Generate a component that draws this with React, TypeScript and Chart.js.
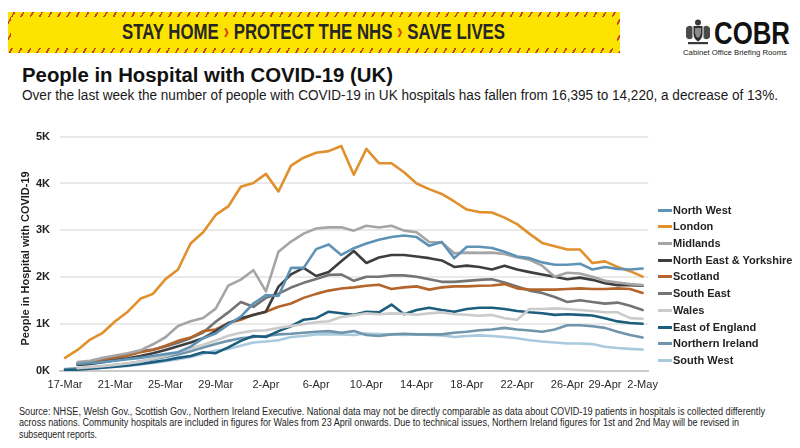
import React, { useEffect, useLayoutEffect, useRef } from 'react';
import { Chart, registerables } from 'chart.js';

Chart.register(...registerables);

const FONT = "'Liberation Sans', Arial, Helvetica, sans-serif";

const dates = [
  '17-Mar', '18-Mar', '19-Mar', '20-Mar', '21-Mar', '22-Mar', '23-Mar', '24-Mar', '25-Mar', '26-Mar',
  '27-Mar', '28-Mar', '29-Mar', '30-Mar', '31-Mar', '1-Apr', '2-Apr', '3-Apr', '4-Apr', '5-Apr',
  '6-Apr', '7-Apr', '8-Apr', '9-Apr', '10-Apr', '11-Apr', '12-Apr', '13-Apr', '14-Apr', '15-Apr',
  '16-Apr', '17-Apr', '18-Apr', '19-Apr', '20-Apr', '21-Apr', '22-Apr', '23-Apr', '24-Apr', '25-Apr',
  '26-Apr', '27-Apr', '28-Apr', '29-Apr', '30-Apr', '1-May', '2-May',
];

const tickIndices = [0, 4, 8, 12, 16, 20, 24, 28, 32, 36, 40, 43, 46];
const yTicks = [0, 1000, 2000, 3000, 4000, 5000];

const seriesNames = [
  'North West', 'London', 'Midlands', 'North East & Yorkshire', 'Scotland',
  'South East', 'Wales', 'East of England', 'Northern Ireland', 'South West',
];

const seriesColors = [
  '#5f93b6', '#e0902c', '#a5a5a5', '#3e3e3e', '#b4652b',
  '#747474', '#cbcbcb', '#1d5d7e', '#7094ab', '#a9c9de',
];

const northWest = [null, 150, 170, 190, 220, 250, 280, 320, 360, 400, 520, 700, 800, 990, 1160, 1440, 1620, 1600, 2199, 2199, 2600, 2700, 2475, 2620, 2718, 2800, 2857, 2891, 2857, 2670, 2753, 2407, 2650, 2650, 2625, 2545, 2442, 2407, 2317, 2268, 2268, 2289, 2164, 2220, 2178, 2164, 2185];
const london = [280, 450, 670, 815, 1060, 1265, 1540, 1645, 1960, 2165, 2720, 2960, 3330, 3510, 3930, 4010, 4205, 3830, 4380, 4550, 4655, 4690, 4800, 4185, 4737, 4433, 4433, 4240, 4000, 3880, 3776, 3616, 3444, 3390, 3380, 3272, 3133, 2925, 2732, 2662, 2593, 2593, 2303, 2338, 2220, 2130, 2012];
const midlands = [null, 190, 220, 280, 330, 380, 440, 570, 720, 960, 1060, 1130, 1330, 1820, 1950, 2150, 1700, 2545, 2760, 2930, 3040, 3064, 3064, 2994, 3097, 3060, 3097, 2994, 2960, 2753, 2740, 2510, 2525, 2520, 2525, 2497, 2427, 2372, 2247, 2012, 2095, 2081, 2012, 1923, 1888, 1853, 1832];
const northEastYorkshire = [null, 130, 150, 190, 230, 270, 320, 380, 450, 530, 610, 700, 850, 1020, 1127, 1197, 1265, 1800, 2060, 2199, 2027, 2110, 2340, 2560, 2303, 2420, 2475, 2475, 2442, 2407, 2359, 2220, 2247, 2220, 2164, 2247, 2164, 2109, 2060, 2012, 1957, 1992, 1944, 1874, 1832, 1832, 1818];
const scotland = [null, 150, 180, 220, 270, 330, 401, 450, 539, 643, 713, 851, 886, 1023, 1093, 1200, 1265, 1369, 1440, 1560, 1645, 1715, 1760, 1784, 1819, 1840, 1749, 1784, 1805, 1736, 1784, 1805, 1805, 1819, 1825, 1853, 1763, 1736, 1736, 1736, 1749, 1763, 1749, 1749, 1763, 1749, 1666];
const southEast = [null, 170, 200, 250, 300, 360, 420, 460, 520, 600, 700, 820, 1050, 1250, 1473, 1369, 1560, 1650, 1780, 1880, 1960, 2050, 2060, 1923, 2012, 2012, 2040, 2040, 2012, 1957, 1902, 1902, 1923, 1944, 1957, 1888, 1805, 1715, 1666, 1577, 1473, 1508, 1473, 1438, 1459, 1390, 1300];
const wales = [null, 60, 80, 100, 130, 160, 200, 260, 320, 400, 480, 560, 650, 750, 816, 860, 870, 920, 960, 1000, 1040, 1060, 1150, 1190, 1230, 1210, 1230, 1220, 1200, 1230, 1250, 1210, 1200, 1180, 1197, 1127, 1093, 1321, 1321, 1335, 1321, 1300, 1280, 1252, 1252, 1127, 1114];
const eastOfEngland = [20, 30, 50, 70, 90, 120, 150, 190, 230, 280, 320, 400, 380, 505, 643, 747, 726, 851, 954, 1093, 1127, 1265, 1231, 1197, 1265, 1252, 1418, 1210, 1300, 1349, 1300, 1265, 1321, 1349, 1349, 1321, 1280, 1252, 1231, 1197, 1210, 1197, 1183, 1127, 1058, 1023, 1009];
const northernIreland = [40, 60, 80, 100, 130, 160, 200, 250, 300, 350, 420, 500, 574, 643, 699, 726, 747, 781, 795, 816, 837, 851, 816, 851, 768, 747, 781, 795, 781, 781, 781, 816, 837, 870, 886, 920, 886, 865, 837, 886, 975, 975, 954, 920, 837, 768, 713];
const southWest = [30, 40, 55, 70, 90, 110, 140, 170, 210, 250, 300, 367, 436, 470, 539, 608, 629, 657, 726, 747, 781, 781, 781, 768, 800, 790, 781, 770, 781, 770, 760, 726, 747, 760, 747, 726, 699, 657, 629, 608, 587, 587, 574, 519, 492, 471, 460];

const seriesValues = [
  northWest, london, midlands, northEastYorkshire, scotland,
  southEast, wales, eastOfEngland, northernIreland, southWest,
];

const yTitle = 'People in Hospital with COVID-19';

type FitProps = {
  x: number;
  y: number;
  w: number;
  size: number;
  weight?: number | string;
  color?: string;
  children: React.ReactNode;
};

function Fit({ x, y, w, size, weight = 400, color = '#1c1c1c', children }: FitProps) {
  const ref = useRef<HTMLDivElement>(null);
  useLayoutEffect(() => {
    const el = ref.current;
    if (!el) return;
    el.style.transform = 'none';
    const natural = el.getBoundingClientRect().width;
    if (natural > 0) el.style.transform = `scaleX(${w / natural})`;
  });
  return (
    <div
      ref={ref}
      style={{
        position: 'absolute',
        left: x,
        top: y,
        whiteSpace: 'nowrap',
        fontFamily: FONT,
        fontSize: size,
        fontWeight: weight as any,
        color,
        lineHeight: 1,
        transformOrigin: '0 0',
      }}
    >
      {children}
    </div>
  );
}

function LineChart() {
  const canvasRef = useRef<HTMLCanvasElement>(null);
  useEffect(() => {
    const canvas = canvasRef.current;
    if (!canvas) return;
    const datasets = seriesNames.map((name, i) => ({
      label: name,
      data: seriesValues[i].map((v, idx) => ({ x: idx, y: v })),
      borderColor: seriesColors[i],
      backgroundColor: seriesColors[i],
      borderWidth: 2.6,
      pointRadius: 0,
      tension: 0,
      spanGaps: false,
      borderJoinStyle: 'round' as const,
      borderCapStyle: 'round' as const,
    }));
    const chart = new Chart(canvas, {
      type: 'line',
      data: { datasets },
      options: {
        animation: false,
        responsive: false,
        maintainAspectRatio: false,
        layout: { padding: { top: 10, right: 10, bottom: 0, left: 0 } },
        plugins: {
          legend: { display: false },
          tooltip: { enabled: false },
        },
        scales: {
          x: {
            type: 'linear',
            min: -0.4,
            max: 46.45,
            grid: { display: false, drawTicks: false },
            border: { display: true, color: '#cbcbcb', width: 2 },
            afterBuildTicks: (scale: any) => {
              scale.ticks = tickIndices.map((v) => ({ value: v }));
            },
            afterFit: (scale: any) => {
              scale.height = 29;
            },
            ticks: {
              autoSkip: false,
              maxRotation: 0,
              minRotation: 0,
              padding: 7,
              color: '#2a2a2a',
              font: { family: FONT, size: 11 },
              callback: (v: any) => dates[Math.round(Number(v))] ?? '',
            },
          },
          y: {
            min: 0,
            max: 5000,
            grid: { color: '#e9e9e9', lineWidth: 2, drawTicks: false },
            border: { display: false },
            afterBuildTicks: (scale: any) => {
              scale.ticks = yTicks.map((v) => ({ value: v }));
            },
            afterFit: (scale: any) => {
              scale.width = 60;
            },
            ticks: {
              padding: 10,
              color: '#1e1e1e',
              font: { family: FONT, size: 11, weight: 'bold' },
              callback: (v: any) => `${Number(v) / 1000}K`,
            },
            title: {
              display: true,
              text: yTitle + '   ',
              color: '#1e1e1e',
              font: { family: FONT, size: 11, weight: 'bold' },
              padding: { top: 19, bottom: 0 },
            },
          },
        },
      },
    });
    return () => chart.destroy();
  }, []);
  return (
    <canvas
      ref={canvasRef}
      width={665}
      height={280}
      style={{ position: 'absolute', left: 0, top: 120, width: 665, height: 280 }}
    />
  );
}

function Legend() {
  return (
    <>
      {seriesNames.map((name, i) => {
        const cy = 210 + i * 16.72;
        return (
          <React.Fragment key={name}>
            <div
              style={{
                position: 'absolute',
                left: 658,
                top: cy - 1.5,
                width: 14,
                height: 3,
                background: seriesColors[i],
              }}
            />
            <div
              style={{
                position: 'absolute',
                left: 673,
                top: cy - 6.5,
                fontFamily: FONT,
                fontSize: 11,
                fontWeight: 700,
                lineHeight: '13px',
                color: '#232323',
                whiteSpace: 'nowrap',
              }}
            >
              {name}
            </div>
          </React.Fragment>
        );
      })}
    </>
  );
}

function Banner() {
  return (
    <div
      style={{
        position: 'absolute',
        left: 8,
        top: 12,
        width: 612,
        height: 41,
        background:
          'repeating-linear-gradient(-60deg, #c7402a 0px, #c7402a 1.6px, #fde400 1.6px, #fde400 8px)',
      }}
    >
      <div
        style={{
          position: 'absolute',
          left: 3,
          right: 3,
          top: 5,
          bottom: 5,
          background: '#fde400',
        }}
      />
    </div>
  );
}

function Crest() {
  return (
    <svg
      width={30}
      height={30}
      viewBox="0 0 30 30"
      style={{ position: 'absolute', left: 683, top: 17 }}
    >
      <circle cx={15} cy={5.5} r={3} fill="#3a3a3a" />
      <path d="M10.5 9 h9 v8 q0 5 -4.5 7.5 q-4.5 -2.5 -4.5 -7.5z" fill="#2e2e2e" />
      <path d="M12 11 h6 v5 q0 3 -3 5 q-3 -2 -3 -5z" fill="#8a8a8a" />
      <path d="M3 11 q3 -4 6.5 -1 v11 q-4 3 -6.5 -1z" fill="#4a4a4a" />
      <path d="M20.5 10 q3.5 -3 6.5 1 v9 q-2.5 4 -6.5 1z" fill="#4a4a4a" />
      <rect x={5} y={25} width={20} height={2.2} fill="#3a3a3a" />
    </svg>
  );
}

export default function App() {
  return (
    <div
      style={{
        position: 'fixed',
        left: 0,
        top: 0,
        width: 800,
        height: 448,
        background: '#ffffff',
        overflow: 'hidden',
        fontFamily: FONT,
      }}
    >
      <Banner />
      <Fit x={122} y={20.5} w={383} size={22} weight={700} color="#262626">
        STAY HOME <span style={{ color: '#d8441c' }}>›</span> PROTECT THE NHS{' '}
        <span style={{ color: '#d8441c' }}>›</span> SAVE LIVES
      </Fit>
      <Crest />
      <Fit x={714} y={17} w={76} size={32} weight={700} color="#111111">
        COBR
      </Fit>
      <Fit x={683} y={49} w={104} size={8} color="#222222">
        Cabinet Office Briefing Rooms
      </Fit>
      <Fit x={22} y={65} w={371} size={20} weight={700} color="#111111">
        People in Hospital with COVID-19 (UK)
      </Fit>
      <Fit x={22} y={88} w={756} size={14} color="#1a1a1a">
        Over the last week the number of people with COVID-19 in UK hospitals has fallen from 16,395 to 14,220, a decrease of 13%.
      </Fit>
      <LineChart />
      <Legend />
      <Fit x={19} y={406.5} w={746} size={10} color="#1e1e1e">
        Source: NHSE, Welsh Gov., Scottish Gov., Northern Ireland Executive. National data may not be directly comparable as data about COVID-19 patients in hospitals is collected differently
      </Fit>
      <Fit x={19} y={418.3} w={720} size={10} color="#1e1e1e">
        across nations. Community hospitals are included in figures for Wales from 23 April onwards. Due to technical issues, Northern Ireland figures for 1st and 2nd May will be revised in
      </Fit>
      <Fit x={19} y={430} w={78} size={10} color="#1e1e1e">
        subsequent reports.
      </Fit>
    </div>
  );
}
